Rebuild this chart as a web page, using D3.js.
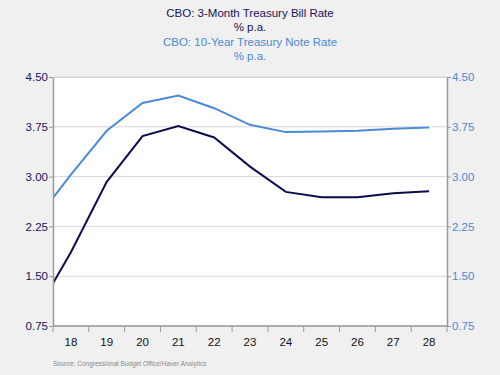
<!DOCTYPE html>
<html>
<head>
<meta charset="utf-8">
<script src="https://cdn.jsdelivr.net/npm/d3@7"></script>
<style>
  body { margin: 0; background: #f0f0f0; }
  svg { display: block; font-family: "Liberation Sans", Arial, sans-serif; }
</style>
</head>
<body>
<svg id="chart"></svg>
<script>
// Years (two-digit), with 2017 partly visible at the left edge
const years = [17, 18, 19, 20, 21, 22, 23, 24, 25, 26, 27, 28];
const billRate = [0.93, 1.86, 2.92, 3.61, 3.76, 3.59, 3.15, 2.77, 2.69, 2.69, 2.75, 2.78];
const noteRate = [2.33, 3.03, 3.69, 4.11, 4.22, 4.03, 3.78, 3.67, 3.68, 3.69, 3.72, 3.74];
const xTickLabels = [18, 19, 20, 21, 22, 23, 24, 25, 26, 27, 28];
const yTicks = [0.75, 1.50, 2.25, 3.00, 3.75, 4.50];

const width = 500, height = 375;
const margin = {top: 77, right: 53, bottom: 49, left: 53};
const innerW = width - margin.left - margin.right;
const innerH = height - margin.top - margin.bottom;

const darkColor = '#0b0b4f';
const lightColor = '#4a8ad6';

const svg = d3.select('#chart')
    .attr('width', width)
    .attr('height', height);

// titles
const titles = [
  {text: 'CBO: 3-Month Treasury Bill Rate', y: 17, color: '#14145a'},
  {text: '% p.a.', y: 31, color: '#14145a'},
  {text: 'CBO: 10-Year Treasury Note Rate', y: 46, color: lightColor},
  {text: '% p.a.', y: 60, color: lightColor}
];
svg.selectAll('text.title')
    .data(titles)
    .join('text')
      .attr('class', 'title')
      .attr('x', width / 2)
      .attr('y', d => d.y)
      .attr('text-anchor', 'middle')
      .attr('font-size', 11.5)
      .attr('fill', d => d.color)
      .text(d => d.text);

const chart = svg.append('g')
    .attr('transform', `translate(${margin.left},${margin.top})`);

chart.append('rect')
    .attr('width', innerW)
    .attr('height', innerH)
    .attr('fill', '#ffffff');

const xScale = d3.scaleLinear()
    .domain([17.5, 28.5])
    .range([0, innerW]);

const yScale = d3.scaleLinear()
    .domain([0.75, 4.50])
    .range([innerH, 0]);

// gridlines
chart.selectAll('line.grid')
    .data(yTicks)
    .join('line')
      .attr('class', 'grid')
      .attr('x1', 0)
      .attr('x2', innerW)
      .attr('y1', d => yScale(d))
      .attr('y2', d => yScale(d))
      .attr('stroke', '#d8d8d8')
      .attr('stroke-width', 1);

// clip so the 2017 point is cut at the axis
svg.append('defs').append('clipPath')
    .attr('id', 'plot-clip')
  .append('rect')
    .attr('width', innerW)
    .attr('height', innerH);

const line = d3.line()
    .x((d, i) => xScale(years[i]))
    .y(d => yScale(d));

const lines = chart.append('g').attr('clip-path', 'url(#plot-clip)');
lines.append('path')
    .datum(noteRate)
    .attr('fill', 'none')
    .attr('stroke', lightColor)
    .attr('stroke-width', 2)
    .attr('d', line);
lines.append('path')
    .datum(billRate)
    .attr('fill', 'none')
    .attr('stroke', darkColor)
    .attr('stroke-width', 2)
    .attr('d', line);

// axes
const fmt = d3.format('.2f');
const yAxisLeft = d3.axisLeft(yScale).tickValues(yTicks).tickFormat(fmt).tickSize(4).tickSizeOuter(0);
const yAxisRight = d3.axisRight(yScale).tickValues(yTicks).tickFormat(fmt).tickSize(4).tickSizeOuter(0);

const leftG = chart.append('g').call(yAxisLeft);
const rightG = chart.append('g').attr('transform', `translate(${innerW},0)`).call(yAxisRight);

[leftG, rightG].forEach(g => {
  g.select('.domain').attr('stroke', '#9a9a9a').attr('stroke-width', 1.5);
  g.selectAll('.tick line').attr('stroke', '#9a9a9a');
  g.selectAll('.tick text').attr('font-size', 11.5).attr('font-family', '"Liberation Sans", Arial, sans-serif');
});
leftG.selectAll('.tick text').attr('fill', '#14145a').attr('x', -5);
rightG.selectAll('.tick text').attr('fill', lightColor).attr('x', 5);

// top frame
chart.append('line')
    .attr('x1', 0).attr('x2', innerW)
    .attr('y1', 0.5).attr('y2', 0.5)
    .attr('stroke', '#d0d0d0');

// x axis: ticks at year boundaries, labels at year centres
const xBoundaries = d3.range(17.5, 28.6, 1);
const xG = chart.append('g').attr('transform', `translate(0,${innerH})`);
xG.append('line')
    .attr('x1', 0).attr('x2', innerW)
    .attr('stroke', '#9a9a9a')
    .attr('stroke-width', 1.5);
xG.selectAll('line.tick')
    .data(xBoundaries)
    .join('line')
      .attr('class', 'tick')
      .attr('x1', d => xScale(d))
      .attr('x2', d => xScale(d))
      .attr('y1', 0)
      .attr('y2', 6)
      .attr('stroke', '#9a9a9a');
xG.selectAll('text')
    .data(xTickLabels)
    .join('text')
      .attr('x', d => xScale(d))
      .attr('y', 20)
      .attr('text-anchor', 'middle')
      .attr('font-size', 11.5)
      .attr('fill', '#111111')
      .text(d => d);

// source
svg.append('text')
    .attr('x', 53)
    .attr('y', 366)
    .attr('font-size', 6.5)
    .attr('fill', '#8a8a8a')
    .text('Source:  Congressional Budget Office/Haver Analytics');
</script>
</body>
</html>
